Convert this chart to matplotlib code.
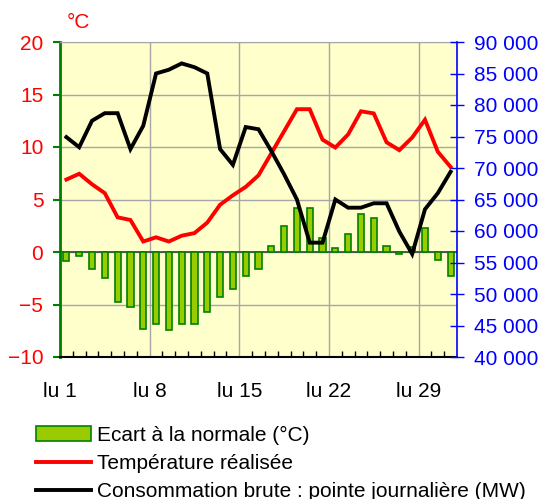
import matplotlib
matplotlib.use("Agg")
import matplotlib.pyplot as plt
from matplotlib.ticker import FixedLocator, FuncFormatter
from matplotlib.lines import Line2D
from matplotlib.patches import Patch

plt.rcParams['font.family'] = ['Liberation Sans', 'DejaVu Sans']

days = list(range(1, 32))
ecart = [-0.9, -0.4, -1.6, -2.5, -4.8, -5.2, -7.3, -6.9, -7.4, -6.9, -6.9, -5.75, -4.25, -3.5, -2.3, -1.6,
         0.6, 2.5, 4.2, 4.2, 1.3, 0.4, 1.75, 3.65, 3.25, 0.6, -0.2, 0.5, 2.3, -0.8, -2.3]
temperature = [6.9, 7.45, 6.45, 5.6, 3.3, 3.05, 1.0, 1.4, 1.0, 1.55, 1.8, 2.8, 4.5, 5.4, 6.2, 7.3,
               9.4, 11.5, 13.6, 13.6, 10.7, 9.95, 11.2, 13.4, 13.2, 10.45, 9.7, 10.9, 12.6, 9.55, 8.1]
consommation = [74900, 73300, 77500, 78700, 78700, 73000, 76700, 85000, 85600, 86600, 86000, 85000, 73000,
                70500, 76500, 76150, 72700, 69000, 65000, 58150, 58150, 65000, 63700, 63700, 64400, 64400,
                59900, 56350, 63450, 66000, 69400]
week_labels = ["lu 1", "lu 8", "lu 15", "lu 22", "lu 29"]
week_starts = [1, 8, 15, 22, 29]

FS = 15
fig = plt.figure(figsize=(5.4, 4.99), dpi=100)
ax = fig.add_axes([60/540, 1-357/499, (457-60)/540, (357-42)/499])
ax.set_facecolor('#FFFFCC')

ax.bar(days, ecart, width=0.48, color='#99CC00', edgecolor='#008000', linewidth=1.2, zorder=3)
ax.axhline(0, color='#404040', lw=1.2, zorder=2.5)
ax.plot(days, temperature, color='#FF0000', lw=2.8, zorder=4, solid_joinstyle='miter')

ax.set_xlim(0.5, 31.5)
ax.set_ylim(-10, 20)
ax.set_yticks([-10, -5, 0, 5, 10, 15, 20])
ax.tick_params(axis='y', colors='#008000', labelcolor='#FF0000', labelsize=FS, length=5, width=1.5, pad=7, direction='out')
ax.set_xticks([d - 0.5 for d in week_starts])
ax.set_xticklabels(week_labels)
ax.tick_params(axis='x', which='major', length=0, labelsize=FS, pad=18, labelcolor='black')
ax.xaxis.set_minor_locator(FixedLocator([d + 0.5 for d in range(0, 31)]))
ax.tick_params(axis='x', which='minor', direction='in', length=4, width=1, color='black')
ax.grid(True, which='major', color='#A6A6A6', lw=1, zorder=0)
ax.set_axisbelow(True)

ax.spines['left'].set_color('#008000')
ax.spines['left'].set_linewidth(2)
ax.spines['bottom'].set_color('black')
ax.spines['bottom'].set_linewidth(1.5)
ax.spines['top'].set_color('#A6A6A6')
ax.spines['right'].set_visible(False)

ax2 = ax.twinx()
ax2.plot(days, consommation, color='black', lw=2.8, zorder=5, solid_joinstyle='miter')
ax2.set_ylim(40000, 90000)
ax2.set_yticks(list(range(40000, 90001, 5000)))
ax2.yaxis.set_major_formatter(FuncFormatter(lambda v, p: f"{int(v):,}".replace(",", " ")))
ax2.tick_params(axis='y', colors='#0000FF', labelcolor='#0000FF', labelsize=FS, length=10, width=1, direction='inout', pad=7)
ax2.spines['right'].set_color('#0000FF')
ax2.spines['right'].set_linewidth(1.2)
for s in ['left', 'top', 'bottom']:
    ax2.spines[s].set_visible(False)

fig.text(67/540, 1-22/499, "°C", color='#FF0000', fontsize=FS, va='center', ha='left')

handles = [Patch(facecolor='#99CC00', edgecolor='#008000', linewidth=1.2),
           Line2D([], [], color='#FF0000', lw=2.8),
           Line2D([], [], color='black', lw=2.8)]
labels = ["Ecart à la normale (°C)", "Température réalisée", "Consommation brute : pointe journalière (MW)"]
fig.legend(handles, labels, loc='upper left', bbox_to_anchor=(36/540, 1-426/499), frameon=False,
           fontsize=FS, handlelength=2.65, handletextpad=0.3, labelspacing=0.44, borderaxespad=0, borderpad=0)

fig.savefig("out.png", dpi=100)
